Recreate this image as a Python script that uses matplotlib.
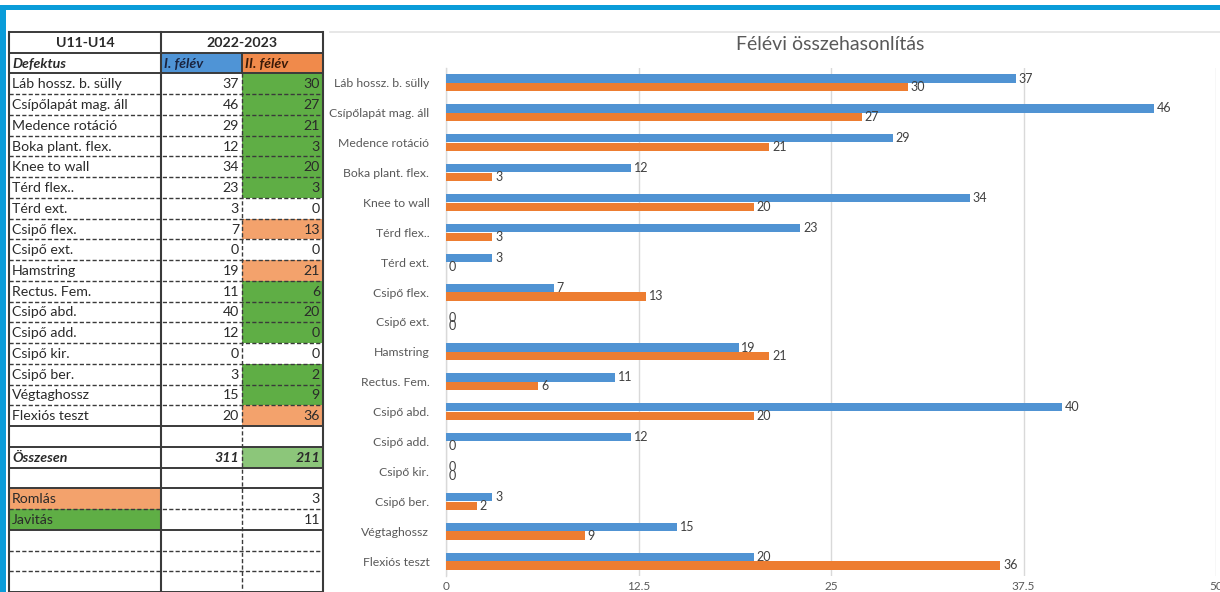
import matplotlib
matplotlib.use("Agg")
import matplotlib.pyplot as plt
import numpy as np

plt.rcParams['font.family'] = ['Lato', 'DejaVu Sans']

# ---------------- data ----------------
categories = ["Láb hossz. b. sülly", "Csípőlapát mag. áll", "Medence rotáció",
              "Boka plant. flex.", "Knee to wall", "Térd flex..", "Térd ext.",
              "Csipő flex.", "Csipő ext.", "Hamstring", "Rectus. Fem.",
              "Csipő abd.", "Csipő add.", "Csipő kir.", "Csipő ber.",
              "Végtaghossz", "Flexiós teszt"]
felev1 = [37, 46, 29, 12, 34, 23, 3, 7, 0, 19, 11, 40, 12, 0, 3, 15, 20]
felev2 = [30, 27, 21, 3, 20, 3, 0, 13, 0, 21, 6, 20, 0, 0, 2, 9, 36]
# table status of II. félév cell: g = javítás, o = romlás, w = no change
status = ["g", "g", "g", "g", "g", "g", "w", "o", "w", "o", "g", "g", "g", "w", "g", "g", "o"]
romlas = 3
javitas = 11
xticks = [0, 12.5, 25, 37.5, 50]
xtick_labels = ["0", "12.5", "25", "37.5", "50"]
title = "Félévi összehasonlítás"

# ---------------- colours ----------------
BLUE = "#5093d3"
ORANGE = "#ed7d31"
CELL_GREEN = "#5fae45"
CELL_ORANGE = "#f3a26c"
CELL_LGREEN = "#8cc67a"
HEAD_BLUE = "#4f94d6"
HEAD_ORANGE = "#f08a4b"
BORDER = "#0a9cd9"
GRID = "#d9d9d9"
TXT = "#595959"
TTXT = "#2a2a2a"

W, H = 1220, 592
fig = plt.figure(figsize=(W / 100, H / 100), dpi=100)
fig.patch.set_facecolor("white")

# background overlay in pixel coordinates
bg = fig.add_axes([0, 0, 1, 1])
bg.set_xlim(0, W)
bg.set_ylim(H, 0)
bg.axis("off")

# blue frame
bg.add_patch(plt.Rectangle((0, 5), W, 5, color=BORDER, lw=0, zorder=5))
bg.add_patch(plt.Rectangle((0, 5), 5.5, H - 5, color=BORDER, lw=0, zorder=5))

# chart outer frame top line
bg.plot([330, W], [31.5, 31.5], color="#e3e3e3", lw=1.2, zorder=1)

# ---------------- table ----------------
x0, x1, x2, x3 = 9, 161, 242, 323
ytop = 32
rh = 20.74
nrows = 27

def ry(k):
    return ytop + k * rh

def fill(col, row, color):
    xs = [(x0, x1), (x1, x2), (x2, x3)][col]
    bg.add_patch(plt.Rectangle((xs[0], ry(row)), xs[1] - xs[0], rh, color=color, lw=0, zorder=2))

def txt(col, row, s, align="left", bold=False, italic=False, color=TTXT, size=10.2):
    xs = [(x0, x1), (x1, x2), (x2, x3)][col]
    if align == "left":
        x, ha = xs[0] + 3, "left"
    elif align == "right":
        x, ha = xs[1] - 3, "right"
    else:
        x, ha = (xs[0] + xs[1]) / 2, "center"
    bg.text(x, ry(row) + rh / 2 + 0.5, s, ha=ha, va="center", fontsize=size, color=color,
            fontweight="bold" if bold else "normal", fontstyle="italic" if italic else "normal",
            zorder=6)

# header rows
bg.text((x0 + x1) / 2, ry(0) + rh / 2 + 0.5, "U11-U14", ha="center", va="center",
        fontsize=10.2, fontweight="bold", color=TTXT, zorder=6)
bg.text((x1 + x3) / 2, ry(0) + rh / 2 + 0.5, "2022-2023", ha="center", va="center",
        fontsize=10.2, fontweight="bold", color=TTXT, zorder=6)
fill(1, 1, HEAD_BLUE)
fill(2, 1, HEAD_ORANGE)
txt(0, 1, "Defektus", bold=True, italic=True)
txt(1, 1, "I. félév", bold=True, italic=True, color="#1a2440")
txt(2, 1, "II. félév", bold=True, italic=True, color="#3a1a08")

cell_col = {"g": CELL_GREEN, "o": CELL_ORANGE}
for i, (c, a, b, s) in enumerate(zip(categories, felev1, felev2, status)):
    r = 2 + i
    if s in cell_col:
        fill(2, r, cell_col[s])
    txt(0, r, c)
    txt(1, r, str(a), align="right")
    txt(2, r, str(b), align="right")

r_tot = 2 + len(categories) + 1
fill(2, r_tot, CELL_LGREEN)
txt(0, r_tot, "Összesen", bold=True, italic=True)
txt(1, r_tot, str(sum(felev1)), align="right", bold=True, italic=True)
txt(2, r_tot, str(sum(felev2)), align="right", bold=True, italic=True)

r_rom = r_tot + 2
fill(0, r_rom, CELL_ORANGE)
fill(0, r_rom + 1, CELL_GREEN)
txt(0, r_rom, "Romlás")
txt(0, r_rom + 1, "Javitás")
txt(2, r_rom, str(romlas), align="right")
txt(2, r_rom + 1, str(javitas), align="right")

LC = "#3a3a3a"
solid_rows = {0, 1, 2, r_tot - 1, r_tot, r_tot + 1, r_rom, r_rom + 2}
for k in range(nrows + 1):
    y = ry(k)
    if k in solid_rows or k == nrows:
        bg.plot([x0, x3], [y, y], color=LC, lw=1.4, zorder=7, solid_capstyle="butt")
    else:
        bg.plot([x0, x3], [y, y], color=LC, lw=1.0, ls=(0, (3.0, 1.6)), zorder=7)
# verticals
for x in (x0, x1, x3):
    bg.plot([x, x], [ry(0), H], color=LC, lw=1.5, zorder=7)
bg.plot([x2, x2], [ry(1), ry(2)], color=LC, lw=1.4, zorder=7)
bg.plot([x2, x2], [ry(2), H], color=LC, lw=1.0, ls=(0, (3.0, 1.6)), zorder=7)

# ---------------- bar chart ----------------
ax_l, ax_r = 446, 1216
ax_t, ax_b = 68, 576
ax = fig.add_axes([ax_l / W, 1 - ax_b / H, (ax_r - ax_l) / W, (ax_b - ax_t) / H])
ax.patch.set_alpha(0)
y = np.arange(len(categories))
off = 0.145
bh = 0.275
b1 = ax.barh(y - off, felev1, height=bh, color=BLUE, zorder=3)
b2 = ax.barh(y + off, felev2, height=bh, color=ORANGE, zorder=3)
ax.bar_label(b1, padding=2, fontsize=9, color="#404040")
ax.bar_label(b2, padding=2, fontsize=9, color="#404040")

ax.set_xlim(0, 50)
ax.set_ylim(len(categories) - 0.5, -0.5)
ax.set_xticks(xticks)
ax.set_xticklabels(xtick_labels)
ax.set_yticks(y)
ax.set_yticklabels(categories)
ax.tick_params(axis="y", length=0, pad=12, labelsize=8.8, labelcolor=TXT)
ax.tick_params(axis="x", length=0, pad=3.5, labelsize=8.5, labelcolor=TXT)
ax.grid(axis="x", color=GRID, lw=1.0, zorder=0)
for s in ("top", "right", "bottom"):
    ax.spines[s].set_visible(False)
ax.spines["left"].set_color(GRID)
ax.spines["left"].set_linewidth(1.0)

fig.text(830 / W, 1 - 45 / H, title, ha="center", va="center", fontsize=14, color=TXT)

fig.savefig("out.png", dpi=100)
